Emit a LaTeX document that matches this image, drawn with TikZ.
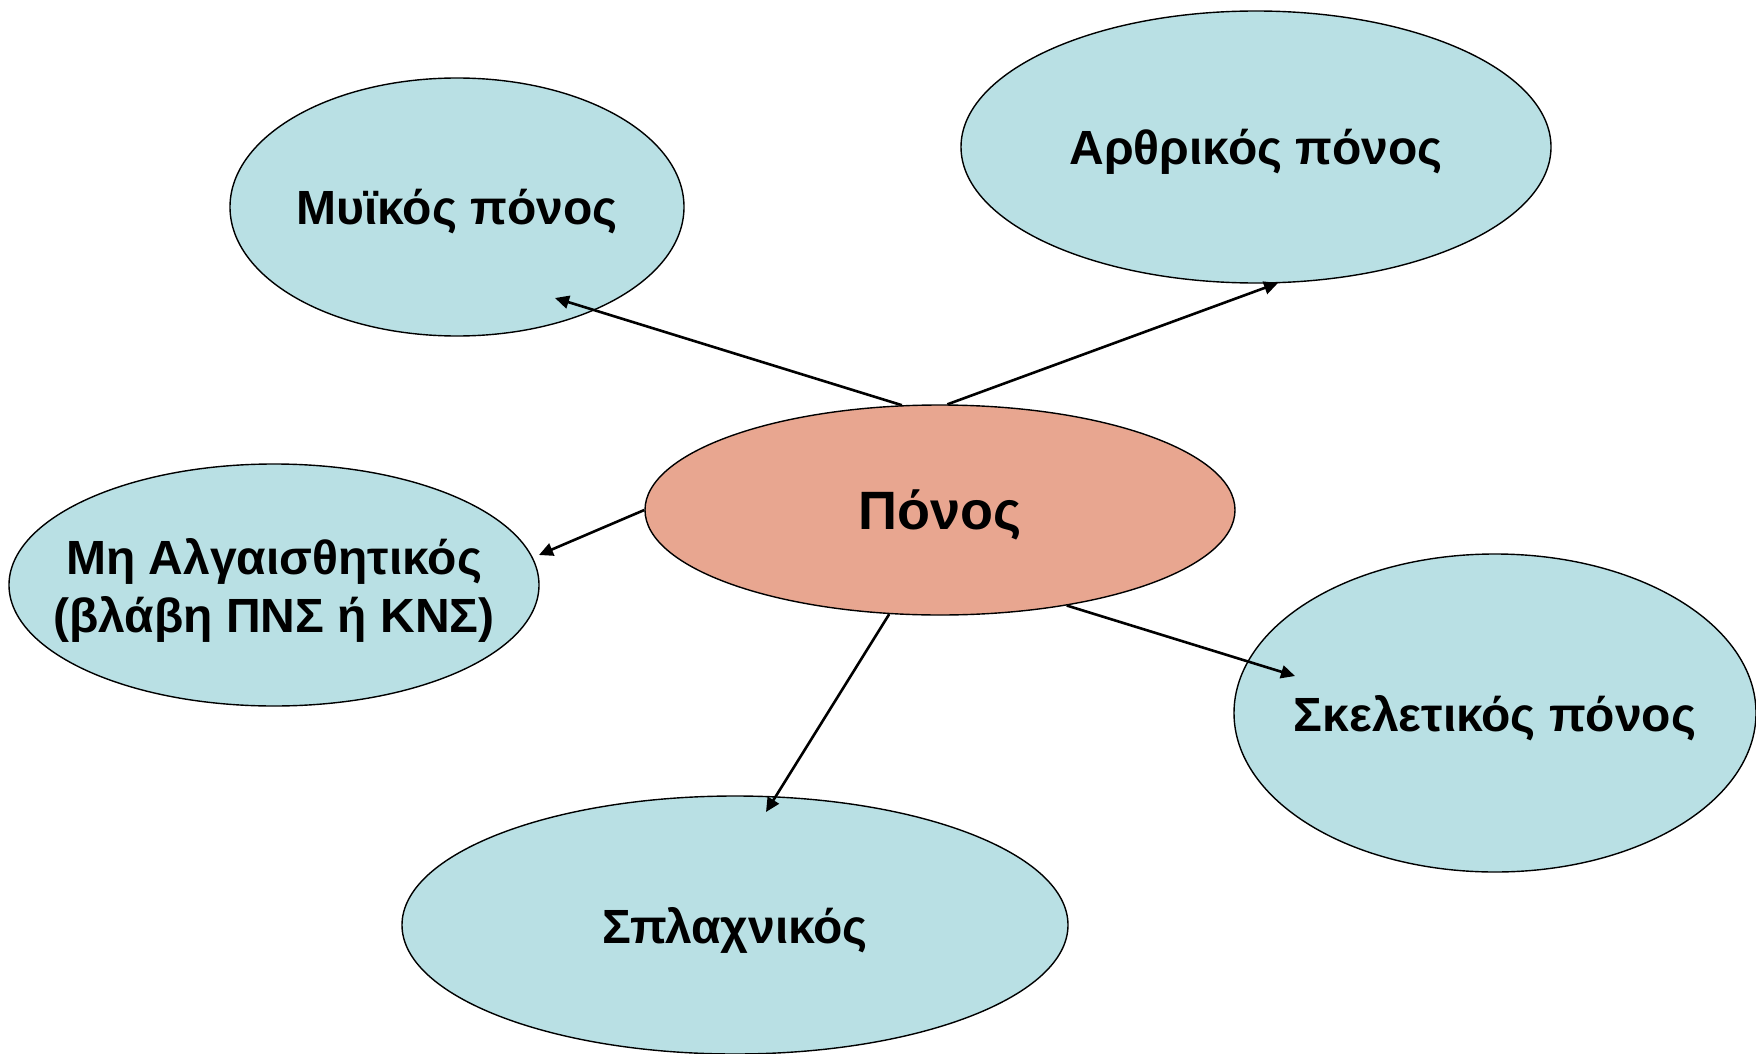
\documentclass[tikz,border=0pt]{standalone}
\usepackage{fontspec}
\setmainfont{Liberation Sans}
\usetikzlibrary{shapes.geometric,arrows.meta}

\newdimen\px \px=0.5pt
\definecolor{paleblue}{RGB}{185,224,228}
\definecolor{salmon}{RGB}{232,166,144}

\tikzset{
    bubble/.style={ellipse, draw, line width=0.7pt, fill=paleblue, align=center,
        inner xsep=-80pt, inner ysep=-30pt, text depth=0pt,
        font=\bfseries\fontsize{24}{29}\selectfont},
    link/.style={-{Triangle[length=7pt,width=6.5pt]}, line width=1.3pt}
}

\begin{document}
\begin{tikzpicture}[x=0.5pt, y=-0.5pt]

    % Page frame, in pixels of the reference
    \useasboundingbox (0,0) rectangle (1756,1054);

    % The central ellipse
    \node[bubble, fill=salmon, minimum width=590\px, minimum height=210\px,
        font=\bfseries\fontsize{27}{32}\selectfont] (ponos) at (940,510) {Πόνος};

    % The surrounding kinds of pain
    \node[bubble, minimum width=454\px, minimum height=258\px] (muikos) at (457,207) {Μυϊκός πόνος};
    \node[bubble, minimum width=590\px, minimum height=272\px] (arthrikos) at (1256,147) {Αρθρικός πόνος};
    \node[bubble, minimum width=530\px, minimum height=242\px] (alg) at (274,585)
        {Μη Αλγαισθητικός\\(βλάβη ΠΝΣ ή ΚΝΣ)};
    \node[bubble, minimum width=522\px, minimum height=318\px] (skeletikos) at (1495,713) {Σκελετικός πόνος};
    \node[bubble, minimum width=666\px, minimum height=258\px] (splaxnikos) at (735,925) {Σπλαχνικός};

    % Where the arrow tips stop, inside the outer ellipses
    \coordinate (muikos tip) at (555,298);
    \coordinate (arthrikos tip) at (1278,283);
    \coordinate (alg tip) at (539,555);
    \coordinate (splaxnikos tip) at (766,812);
    \coordinate (skeletikos tip) at (1295,676);

    % Arrows out of the central ellipse
    \draw[link] (ponos.110) -- (muikos tip);
    \draw[link] (ponos.86) -- (arthrikos tip);
    \draw[link] (ponos.west) -- (alg tip);
    \draw[link] (ponos.244) -- (splaxnikos tip);
    \draw[link] (ponos.323) -- (skeletikos tip);

\end{tikzpicture}
\end{document}
